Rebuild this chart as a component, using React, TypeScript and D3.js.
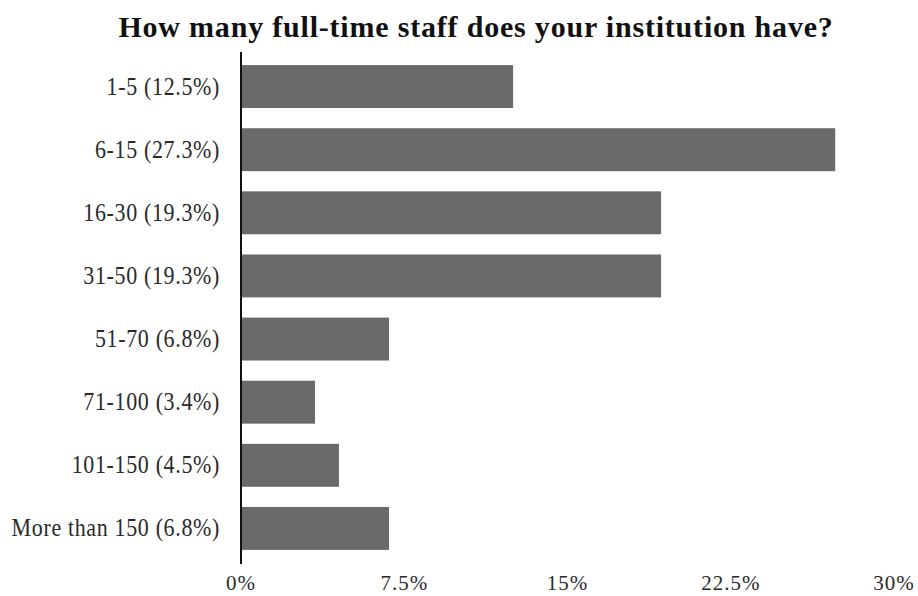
import React from "react";
import * as d3 from "d3";

const categories = [
  "1-5 (12.5%)",
  "6-15 (27.3%)",
  "16-30 (19.3%)",
  "31-50 (19.3%)",
  "51-70 (6.8%)",
  "71-100 (3.4%)",
  "101-150 (4.5%)",
  "More than 150 (6.8%)",
];
const values = [12.5, 27.3, 19.3, 19.3, 6.8, 3.4, 4.5, 6.8];
const tickValues = [0, 7.5, 15, 22.5, 30];
const tickLabels = ["0%", "7.5%", "15%", "22.5%", "30%"];
const title = "How many full-time staff does your institution have?";

export default function App() {
  const W = 918, H = 596;
  const x = d3.scaleLinear().domain([0, 30]).range([241, 894]);
  const y = d3.scaleBand<string>().domain(categories).range([55, 560]).paddingInner(0.32).paddingOuter(0.16);
  const font = "'Liberation Serif', 'Times New Roman', serif";
  return (
    <svg width={W} height={H} style={{ position: "absolute", left: 0, top: 0, background: "#fff" }}>
      <rect width={W} height={H} fill="#fff" />
      <text x={476} y={37} textAnchor="middle" fontFamily={font} fontWeight="bold" fontSize={30} letterSpacing={0.8} fill="#111">{title}</text>
      {categories.map((c, i) => (
        <g key={c}>
          <rect x={x(0)} y={y(c)!} width={x(values[i]) - x(0)} height={y.bandwidth()} fill="#6a6a6a" />
          <text
            transform={`translate(220, ${y(c)! + y.bandwidth() / 2 + 8}) scale(1, 1.12)`}
            textAnchor="end" fontFamily={font} fontSize={22} letterSpacing={0.65} fill="#2a2a2a">{c}</text>
        </g>
      ))}
      <line x1={x(0)} x2={x(0)} y1={52} y2={564} stroke="#111" strokeWidth={2} />
      {tickValues.map((t, i) => (
        <text key={t} x={x(t)} y={590} textAnchor="middle" fontFamily={font} fontSize={21} letterSpacing={1} fill="#2a2a2a">{tickLabels[i]}</text>
      ))}
    </svg>
  );
}
